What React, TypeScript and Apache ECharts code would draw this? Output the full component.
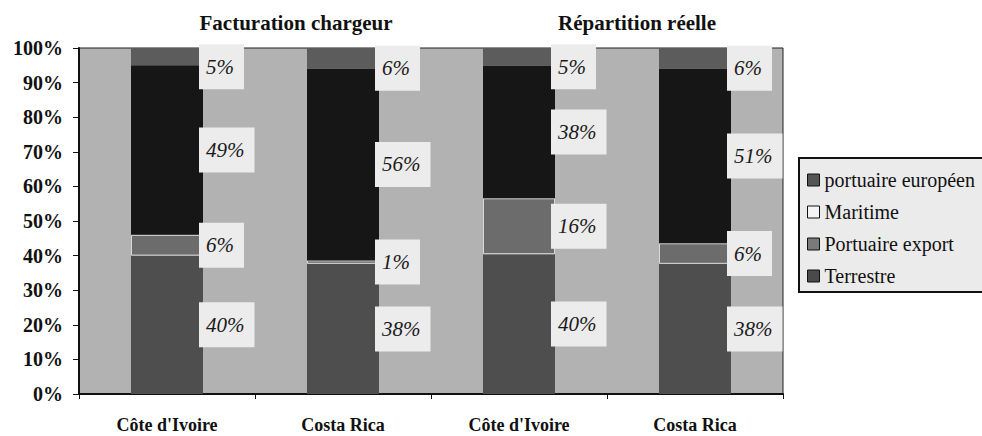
import React, { useEffect, useRef } from "react";
import * as echarts from "echarts";

const categories = ["Côte d'Ivoire", "Costa Rica", "Côte d'Ivoire", "Costa Rica"];
const groupTitles = ["Facturation chargeur", "Répartition réelle"];
const terrestre = [40, 38, 40, 38];
const portuaireExport = [6, 1, 16, 6];
const maritime = [49, 56, 38, 51];
const portuaireEuropeen = [5, 6, 5, 6];
const seriesNames = ["Terrestre", "Portuaire export", "Maritime", "portuaire européen"];
const legendOrder = ["portuaire européen", "Maritime", "Portuaire export", "Terrestre"];

const SERIF = "Liberation Serif";

export default function App() {
  const ref = useRef<HTMLDivElement>(null);
  useEffect(() => {
    if (!ref.current) return;
    const chart = echarts.init(ref.current, null, { renderer: "svg" });
    const raw = [terrestre, portuaireExport, maritime, portuaireEuropeen];
    const totals = categories.map((_, i) => raw.reduce((s, a) => s + a[i], 0));
    const colors = ["#4e4e4e", "#6c6c6c", "#161616", "#5c5c5c"];
    const legendColors: Record<string, string> = {
      "portuaire européen": "#555",
      Maritime: "#f4f4f4",
      "Portuaire export": "#7a7a7a",
      Terrestre: "#4a4a4a",
    };

    const series = raw.map((arr, si) => ({
      name: seriesNames[si],
      type: "bar",
      stack: "total",
      barWidth: 72,
      data: arr.map((v, i) => (v / totals[i]) * 100),
      itemStyle: {
        color: colors[si],
        borderColor: si === 1 ? "#d8d8d8" : colors[si],
        borderWidth: si === 1 ? 1 : 0,
      },
      label: {
        show: true,
        position: "right",
        distance: 0,
        offset: si === 3 ? [-4, 10] : [-4, 0],
        formatter: (p: any) => arr[p.dataIndex] + "%",
        backgroundColor: "#ececec",
        padding: [12, 10, 12, 7],
        fontFamily: SERIF,
        fontStyle: "italic",
        fontSize: 21,
        color: "#1a1a1a",
      },
    }));

    chart.setOption({
      animation: false,
      textStyle: { fontFamily: SERIF },
      grid: {
        left: 79,
        right: 199,
        top: 48,
        bottom: 42,
        show: true,
        backgroundColor: "#b2b2b2",
        borderColor: "#222",
        borderWidth: 1,
      },
      legend: {
        orient: "vertical",
        left: 799,
        top: 158,
        data: legendOrder.map((n) => ({
          name: n,
          itemStyle: { color: legendColors[n], borderColor: "#111", borderWidth: 1 },
        })),
        icon: "rect",
        itemWidth: 12,
        itemHeight: 12,
        itemGap: 12,
        padding: [12, 40, 6, 8],
        backgroundColor: "#ebebeb",
        borderColor: "#111",
        borderWidth: 2,
        textStyle: { fontFamily: SERIF, fontSize: 20, color: "#111", lineHeight: 20 },
      },
      xAxis: {
        type: "category",
        data: categories,
        axisLine: { lineStyle: { color: "#111", width: 2 } },
        axisTick: { show: true, length: 5, lineStyle: { color: "#111" } },
        axisLabel: {
          margin: 22,
          fontFamily: SERIF,
          fontWeight: "bold",
          fontSize: 18,
          color: "#111",
        },
      },
      yAxis: {
        type: "value",
        min: 0,
        max: 100,
        interval: 10,
        splitLine: { show: false },
        axisLine: { show: true, lineStyle: { color: "#111", width: 2 } },
        axisTick: { show: true, length: 6, lineStyle: { color: "#111" } },
        axisLabel: {
          formatter: "{value}%",
          margin: 16,
          fontFamily: SERIF,
          fontWeight: "bold",
          fontSize: 20,
          color: "#111",
        },
      },
      graphic: [
        {
          type: "text",
          x: 296,
          y: 23,
          style: {
            text: groupTitles[0],
            fill: "#111",
            font: "bold 21px " + SERIF,
            textAlign: "center",
            textVerticalAlign: "middle",
          },
        },
        {
          type: "text",
          x: 637,
          y: 23,
          style: {
            text: groupTitles[1],
            fill: "#111",
            font: "bold 21px " + SERIF,
            textAlign: "center",
            textVerticalAlign: "middle",
          },
        },
      ],
      series,
    });
    return () => chart.dispose();
  }, []);
  return (
    <div
      ref={ref}
      style={{ position: "absolute", left: 0, top: 0, width: 982, height: 436, background: "#fff" }}
    />
  );
}
